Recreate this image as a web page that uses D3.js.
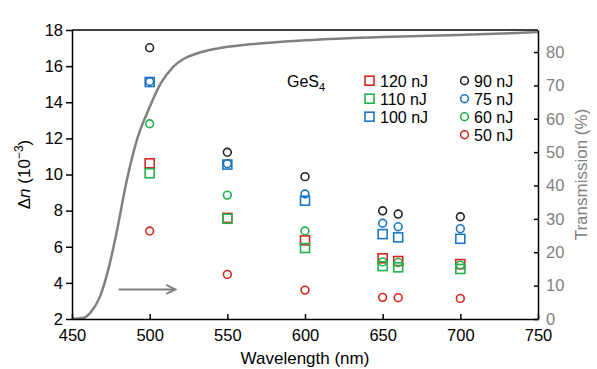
<!DOCTYPE html>
<html>
<head>
<meta charset="utf-8">
<script src="https://cdn.jsdelivr.net/npm/d3@7"></script>
<style>
  body { margin: 0; background: #fff; }
  svg { font-family: "Liberation Sans", Arial, sans-serif; }
  .axis path, .axis line { stroke: #000; stroke-width: 1.5; }
  .axis text { font-size: 16.5px; fill: #000; }
  .axis.right text { fill: #808080; }
</style>
</head>
<body>
<svg width="597" height="369"></svg>
<script>
// wavelengths of the laser pulses (nm)
const wavelengths = [500, 550, 600, 650, 660, 700]

// delta n (10^-3), one array per pulse energy
const e120 = [10.62, 7.60, 6.35, 5.36, 5.21, 5.04]
const e110 = [10.07, 7.55, 5.93, 4.93, 4.86, 4.77]
const e100 = [15.12, 10.55, 8.55, 6.70, 6.52, 6.44]
const e90 = [17.02, 11.23, 9.88, 7.99, 7.81, 7.66]
const e75 = [15.15, 10.60, 8.92, 7.30, 7.11, 7.00]
const e60 = [12.81, 8.86, 6.87, 5.16, 5.13, 4.98]
const e50 = [6.87, 4.47, 3.60, 3.20, 3.18, 3.14]

// transmission spectrum of the GeS4 glass
const transWl = [450, 457, 462, 468, 474, 479, 485, 492, 500, 507, 515, 522, 530, 543, 565, 600, 650, 693, 736, 750]
const transVal = [0, 0.3, 2, 6.7, 16, 26.6, 41, 54, 63.5, 70.5, 75.5, 78, 79.5, 81, 82.3, 83.5, 84.5, 85, 85.7, 86]

const xTicks = [450, 500, 550, 600, 650, 700, 750]
const yTicks = [2, 4, 6, 8, 10, 12, 14, 16, 18]
const tTicks = [0, 10, 20, 30, 40, 50, 60, 70, 80]

const red = '#d7261e', green = '#22b14c', blue = '#1b75c4', black = '#222'

const squares = [
  { label: '120 nJ', values: e120, color: red },
  { label: '110 nJ', values: e110, color: green },
  { label: '100 nJ', values: e100, color: blue }
]
const circles = [
  { label: '90 nJ', values: e90, color: black },
  { label: '75 nJ', values: e75, color: blue },
  { label: '60 nJ', values: e60, color: green },
  { label: '50 nJ', values: e50, color: red }
]

const svg = d3.select('svg')
const mLeft = 72, mRight = 538, mTop = 30, mBottom = 319

const x = d3.scaleLinear().domain([450, 750]).range([mLeft, mRight])
const y = d3.scaleLinear().domain([2, 18]).range([mBottom, mTop])
const yT = d3.scaleLinear().domain([0, 86.6]).range([mBottom, mTop])

// transmission curve
const line = d3.line()
  .x((d, i) => x(transWl[i]))
  .y(d => yT(d))
  .curve(d3.curveMonotoneX)

svg.append('path')
  .attr('d', line(transVal))
  .attr('fill', 'none')
  .attr('stroke', '#808080')
  .attr('stroke-width', 2.5)

// top frame line
svg.append('line')
  .attr('x1', mLeft).attr('x2', mRight)
  .attr('y1', mTop).attr('y2', mTop)
  .attr('stroke', '#000').attr('stroke-width', 1.5)

// axes
svg.append('g')
  .attr('class', 'axis')
  .attr('transform', `translate(0, ${mBottom})`)
  .call(d3.axisBottom(x).tickValues(xTicks).tickSizeInner(-5).tickSizeOuter(0).tickPadding(10))

svg.append('g')
  .attr('class', 'axis')
  .attr('transform', `translate(${mLeft}, 0)`)
  .call(d3.axisLeft(y).tickValues(yTicks).tickSizeInner(6).tickSizeOuter(0).tickPadding(3))

svg.append('g')
  .attr('class', 'axis right')
  .attr('transform', `translate(${mRight}, 0)`)
  .call(d3.axisRight(yT).tickValues(tTicks).tickSizeInner(-4).tickSizeOuter(0).tickPadding(8))

// square markers
const sq = 9
squares.forEach(s => {
  svg.append('g').selectAll('rect')
    .data(s.values)
    .enter()
    .append('rect')
    .attr('x', (d, i) => x(wavelengths[i]) - sq / 2)
    .attr('y', d => y(d) - sq / 2)
    .attr('width', sq).attr('height', sq)
    .attr('fill', 'none')
    .attr('stroke', s.color)
    .attr('stroke-width', 1.6)
})

// circle markers
circles.forEach(s => {
  svg.append('g').selectAll('circle')
    .data(s.values)
    .enter()
    .append('circle')
    .attr('cx', (d, i) => x(wavelengths[i]))
    .attr('cy', d => y(d))
    .attr('r', 3.9)
    .attr('fill', 'none')
    .attr('stroke', s.color)
    .attr('stroke-width', 1.6)
})

// legend
const lg = svg.append('g').attr('font-size', 16)
lg.append('text').attr('x', 287).attr('y', 87).text('GeS')
  .append('tspan').attr('font-size', 11).attr('dy', 4).text('4')

squares.forEach((s, i) => {
  const yy = 80.7 + i * 18
  lg.append('rect')
    .attr('x', 369.5 - sq / 2).attr('y', yy - sq / 2)
    .attr('width', sq).attr('height', sq)
    .attr('fill', 'none').attr('stroke', s.color).attr('stroke-width', 1.6)
  lg.append('text').attr('x', 380).attr('y', yy + 6).text(s.label)
})
circles.forEach((s, i) => {
  const yy = 80.7 + i * 18
  lg.append('circle')
    .attr('cx', 464.5).attr('cy', yy).attr('r', 3.9)
    .attr('fill', 'none').attr('stroke', s.color).attr('stroke-width', 1.6)
  lg.append('text').attr('x', 474).attr('y', yy + 6).text(s.label)
})

// arrow pointing at the right axis
const ay = y(3.64)
svg.append('line')
  .attr('x1', x(480)).attr('x2', x(516.5))
  .attr('y1', ay).attr('y2', ay)
  .attr('stroke', '#808080').attr('stroke-width', 2)
svg.append('path')
  .attr('d', `M${x(516.5) - 9},${ay - 4.5} L${x(516.5)},${ay} L${x(516.5) - 9},${ay + 4.5}`)
  .attr('fill', 'none')
  .attr('stroke', '#808080').attr('stroke-width', 2)

// axis labels
svg.append('text')
  .attr('x', (mLeft + mRight) / 2)
  .attr('y', 364)
  .attr('text-anchor', 'middle')
  .attr('font-size', 17)
  .text('Wavelength (nm)')

const yl = svg.append('text')
  .attr('transform', `translate(30, ${(mTop + mBottom) / 2}) rotate(-90)`)
  .attr('text-anchor', 'middle')
  .attr('font-size', 17)
yl.append('tspan').text('Δ')
yl.append('tspan').attr('font-style', 'italic').text('n')
yl.append('tspan').text(' (10')
yl.append('tspan').attr('font-size', 12).attr('dy', -7).text('−3')
yl.append('tspan').attr('dy', 7).text(')')

svg.append('text')
  .attr('transform', `translate(587, ${(mTop + mBottom) / 2}) rotate(-90)`)
  .attr('text-anchor', 'middle')
  .attr('font-size', 17)
  .attr('fill', '#808080')
  .text('Transmission (%)')
</script>
</body>
</html>
